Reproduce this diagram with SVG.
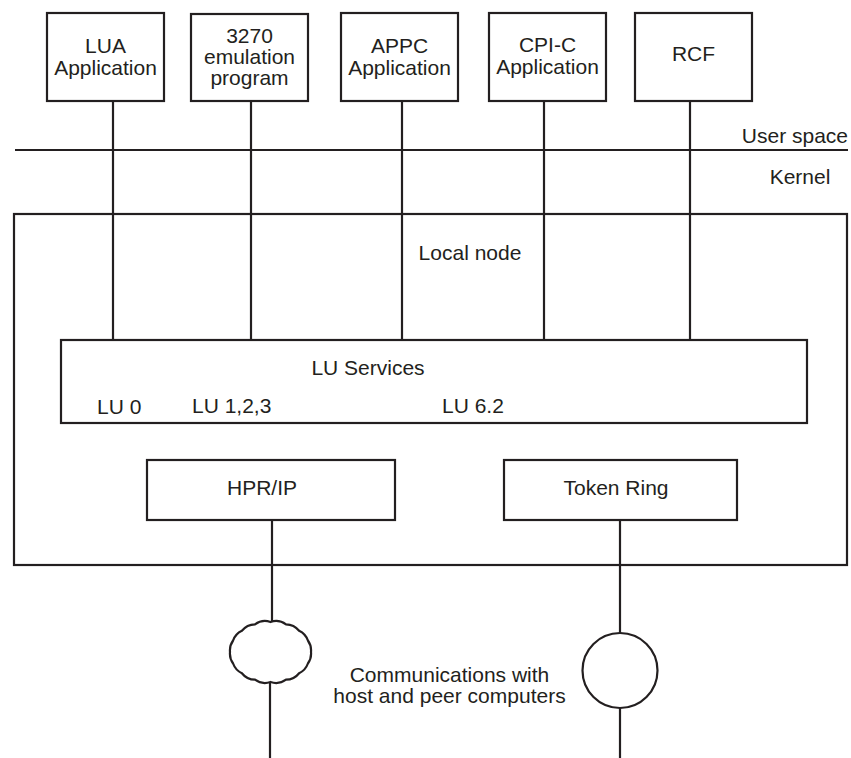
<svg xmlns="http://www.w3.org/2000/svg" width="851" height="758" viewBox="0 0 851 758">
<style>
.box{fill:none;stroke:#231f20;stroke-width:2.2}
.ln{fill:none;stroke:#231f20;stroke-width:2.2}
text{font-family:"Liberation Sans",Arial,sans-serif;font-size:21px;fill:#231f20}
.c{text-anchor:middle}
</style>
<rect width="851" height="758" fill="#ffffff"/>
<g id="connectors">
<line class="ln" x1="113" y1="101" x2="113" y2="340"/>
<line class="ln" x1="251" y1="101" x2="251" y2="340"/>
<line class="ln" x1="402" y1="101" x2="402" y2="340"/>
<line class="ln" x1="544" y1="101" x2="544" y2="340"/>
<line class="ln" x1="690" y1="101" x2="690" y2="340"/>
<line class="ln" x1="272" y1="520" x2="272" y2="622"/>
<line class="ln" x1="270" y1="682" x2="270" y2="758"/>
<line class="ln" x1="620" y1="520" x2="620" y2="633"/>
<line class="ln" x1="620" y1="708" x2="620" y2="758"/>
</g>
<g id="boundary">
<line class="ln" x1="15" y1="150" x2="848" y2="150"/>
<text x="848" y="143" text-anchor="end">User space</text>
<text x="800" y="184" class="c">Kernel</text>
</g>
<g id="local-node">
<rect class="box" x="14" y="214" width="833" height="351"/>
<text x="470" y="260" class="c">Local node</text>
</g>
<g id="lua">
<rect class="box" x="47" y="13" width="117" height="88"/>
<text x="105.5" y="53" class="c">LUA</text>
<text x="105.5" y="75" class="c">Application</text>
</g>
<g id="emul3270">
<rect class="box" x="191" y="14" width="117" height="87"/>
<text x="249.5" y="43" class="c">3270</text>
<text x="249.5" y="64" class="c">emulation</text>
<text x="249.5" y="85" class="c">program</text>
</g>
<g id="appc">
<rect class="box" x="341" y="13" width="117" height="88"/>
<text x="399.5" y="53" class="c">APPC</text>
<text x="399.5" y="75" class="c">Application</text>
</g>
<g id="cpic">
<rect class="box" x="489" y="13" width="117" height="88"/>
<text x="547.5" y="52" class="c">CPI-C</text>
<text x="547.5" y="74" class="c">Application</text>
</g>
<g id="rcf">
<rect class="box" x="635" y="13" width="117" height="88"/>
<text x="693.5" y="61" class="c">RCF</text>
</g>
<g id="lu-services">
<rect class="box" x="61" y="340" width="746" height="83"/>
<text x="368" y="375" class="c">LU Services</text>
<text x="97" y="414">LU 0</text>
<text x="192" y="413">LU 1,2,3</text>
<text x="442" y="413">LU 6.2</text>
</g>
<g id="hpr-ip">
<rect class="box" x="147" y="460" width="248" height="60"/>
<text x="262" y="495" class="c">HPR/IP</text>
</g>
<g id="token-ring">
<rect class="box" x="504" y="460" width="233" height="60"/>
<text x="616" y="495" class="c">Token Ring</text>
</g>
<g id="cloud">
<path class="ln" d="M311,652 A17,17 0 0 1 307.9,663.5 A17,17 0 0 1 299.1,673.2 A17,17 0 0 1 286,679.7 A17,17 0 0 1 270.5,682 A17,17 0 0 1 255,679.7 A17,17 0 0 1 241.9,673.2 A17,17 0 0 1 233.1,663.5 A17,17 0 0 1 230,652 A17,17 0 0 1 233.1,640.5 A17,17 0 0 1 241.9,630.8 A17,17 0 0 1 255,624.3 A17,17 0 0 1 270.5,622 A17,17 0 0 1 286,624.3 A17,17 0 0 1 299.1,630.8 A17,17 0 0 1 307.9,640.5 A17,17 0 0 1 311,652 Z"/>
</g>
<g id="ring">
<circle class="ln" cx="620" cy="670.5" r="37.5"/>
</g>
<g id="comms-label">
<text x="449.5" y="682" class="c">Communications with</text>
<text x="449.5" y="703" class="c">host and peer computers</text>
</g>
</svg>
